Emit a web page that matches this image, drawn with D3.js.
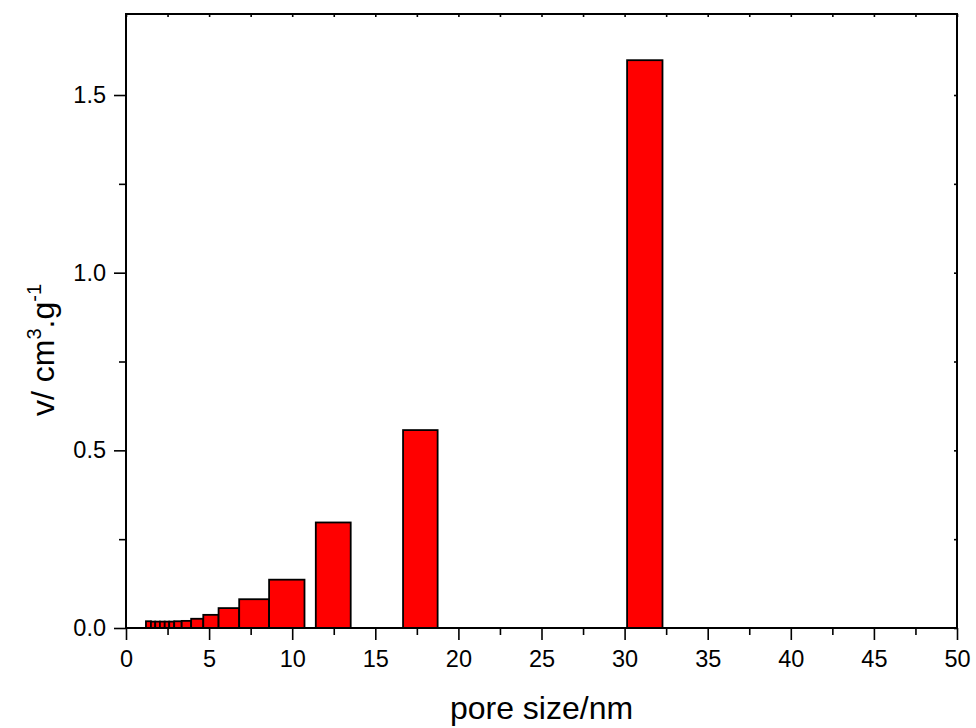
<!DOCTYPE html>
<html>
<head>
<meta charset="utf-8">
<script src="https://cdn.jsdelivr.net/npm/d3@7"></script>
<style>
  body { margin: 0; background: #fff; }
  svg { display: block; }
  text { font-family: "Liberation Sans", Arial, sans-serif; fill: #000; }
</style>
</head>
<body>
<svg id="chart" width="976" height="728"></svg>
<script>
// Pore size bins (nm): start and end of each column, and pore volume (cm3/g)
const binStart = [1.20, 1.50, 1.76, 2.04, 2.33, 2.60, 2.90, 3.35, 3.92, 4.65, 5.57, 6.81, 8.61, 11.42, 16.67, 30.15];
const binEnd   = [1.50, 1.76, 2.04, 2.33, 2.60, 2.90, 3.35, 3.92, 4.65, 5.57, 6.81, 8.61, 10.74, 13.52, 18.75, 32.28];
const volume   = [0.019, 0.018, 0.018, 0.018, 0.018, 0.018, 0.019, 0.020, 0.026, 0.037, 0.056, 0.081, 0.136, 0.297, 0.557, 1.598];

const xMajorTicks = [0, 5, 10, 15, 20, 25, 30, 35, 40, 45, 50];
const xMinorTicks = [2.5, 7.5, 12.5, 17.5, 22.5, 27.5, 32.5, 37.5, 42.5, 47.5];
const yMajorTicks = [0.0, 0.5, 1.0, 1.5];
const yMinorTicks = [0.25, 0.75, 1.25];
const yTickLabels = ["0.0", "0.5", "1.0", "1.5"];

const svg = d3.select("#chart");
const mLeft = 126, mRight = 957, mTop = 14, mBottom = 628;

const x = d3.scaleLinear().domain([0, 50]).range([mLeft, mRight]);
const y = d3.scaleLinear().domain([0, 1.728]).range([mBottom, mTop]);

const bars = binStart.map((s, i) => ({ x0: s, x1: binEnd[i], v: volume[i] }));

// bars
svg.append("g").selectAll("rect").data(bars).join("rect")
  .attr("x", d => x(d.x0))
  .attr("y", d => y(d.v))
  .attr("width", d => x(d.x1) - x(d.x0))
  .attr("height", d => y(0) - y(d.v))
  .attr("fill", "#ff0000")
  .attr("stroke", "#000")
  .attr("stroke-width", 1.8);

function styleAxis(g) {
  g.select(".domain").remove();
  g.selectAll(".tick line").attr("stroke", "#000").attr("stroke-width", 1.6);
}

const tickFont = 23.5;

// bottom axis major
svg.append("g").attr("transform", `translate(0,${mBottom})`)
  .call(d3.axisBottom(x).tickValues(xMajorTicks).tickSize(12).tickPadding(10).tickFormat(d3.format("d")))
  .call(styleAxis)
  .call(g => g.selectAll("text").attr("font-size", tickFont).attr("font-family", "Liberation Sans, Arial, sans-serif"));
// bottom minor
svg.append("g").attr("transform", `translate(0,${mBottom})`)
  .call(d3.axisBottom(x).tickValues(xMinorTicks).tickSize(7).tickFormat(""))
  .call(styleAxis);

// left axis major
svg.append("g").attr("transform", `translate(${mLeft},0)`)
  .call(d3.axisLeft(y).tickValues(yMajorTicks).tickSize(12).tickPadding(8).tickFormat((d, i) => yTickLabels[i]))
  .call(styleAxis)
  .call(g => g.selectAll("text").attr("font-size", tickFont).attr("font-family", "Liberation Sans, Arial, sans-serif"));
// left minor
svg.append("g").attr("transform", `translate(${mLeft},0)`)
  .call(d3.axisLeft(y).tickValues(yMinorTicks).tickSize(7).tickFormat(""))
  .call(styleAxis);

// top axis tiny inward ticks
svg.append("g").attr("transform", `translate(0,${mTop})`)
  .call(d3.axisBottom(x).tickValues(xMajorTicks.concat(xMinorTicks)).tickSize(3).tickFormat(""))
  .call(styleAxis);
// right axis tiny inward ticks
svg.append("g").attr("transform", `translate(${mRight},0)`)
  .call(d3.axisLeft(y).tickValues(yMajorTicks.concat(yMinorTicks)).tickSize(3).tickFormat(""))
  .call(styleAxis);

// frame
svg.append("rect")
  .attr("x", mLeft).attr("y", mTop)
  .attr("width", mRight - mLeft).attr("height", mBottom - mTop)
  .attr("fill", "none").attr("stroke", "#000").attr("stroke-width", 2);

// axis titles
svg.append("text")
  .attr("x", (mLeft + mRight) / 2).attr("y", 719)
  .attr("text-anchor", "middle").attr("font-size", 32)
  .text("pore size/nm");

const yt = svg.append("text")
  .attr("transform", `translate(54,350) rotate(-90)`)
  .attr("text-anchor", "middle").attr("font-size", 32);
yt.append("tspan").text("v/ cm");
yt.append("tspan").attr("font-size", 20).attr("dy", -13).text("3");
yt.append("tspan").attr("dy", 13).text(".g");
yt.append("tspan").attr("font-size", 20).attr("dy", -13).text("-1");
</script>
</body>
</html>
